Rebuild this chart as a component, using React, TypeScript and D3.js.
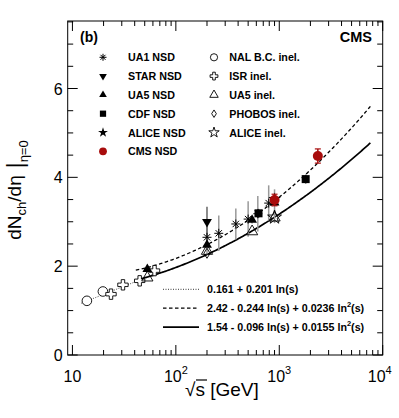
import React from 'react';
import * as d3 from 'd3';

// measured points, sqrt(s) in GeV
const ua1Energy = [200, 260, 380, 500, 620, 790];
const ua1Value = [2.65, 2.74, 2.95, 3.06, 3.18, 3.42];
const ua1Error = [0.4, 0.4, 0.35, 0.4, 0.4, 0.4];
const starEnergy = [200];
const starValue = [3.0];
const starError = [0.34];
const ua5NsdEnergy = [53, 200, 546, 900];
const ua5NsdValue = [1.93, 2.48, 3.04, 3.43];
const ua5NsdError = [0.05, 0.06, 0.08, 0.3];
const cdfEnergy = [630, 1800];
const cdfValue = [3.19, 3.96];
const cdfError = [0.1, 0.1];
const aliceNsdEnergy = [900];
const aliceNsdValue = [3.51];
const cmsEnergy = [900, 2360];
const cmsValue = [3.49, 4.48];
const cmsError = [0.13, 0.16];
const nalEnergy = [13.8, 19.7];
const nalValue = [1.22, 1.43];
const isrEnergy = [23.6, 30.8, 44.7, 62.2];
const isrValue = [1.37, 1.58, 1.67, 1.9];
const ua5InelEnergy = [53, 200, 546, 900];
const ua5InelValue = [1.74, 2.34, 2.78, 3.09];
const phobosEnergy = [200];
const phobosValue = [2.29];
const aliceInelEnergy = [900];
const aliceInelValue = [3.1];
const aliceInelError = [0.13];

// fit coefficients a + b ln(s) + c ln^2(s), and their drawn ranges
const fitLabels = ['0.161 + 0.201 ln(s)', '2.42 - 0.244 ln(s) + 0.0236 ln', '1.54 - 0.096 ln(s) + 0.0155 ln'];
const fitCoef = [[0.161, 0.201, 0], [2.42, -0.244, 0.0236], [1.54, -0.096, 0.0155]];
const fitRange = [[12.2, 60], [41, 7600], [41, 7600]];

const yTicks = [0, 2, 4, 6];
const xTicks = [10, 100, 1000, 10000];

const RED = '#a80c0c';

const W = 399, H = 418;
const L = 67.7, R = 382.7, T = 21, B = 355;

const x = d3.scaleLog().domain([9, 10000]).range([L, R]);
const y = d3.scaleLinear().domain([0, 7.52]).range([B, T]);

function asterisk(s: number) {
  const r = s / 2;
  const d = r * 0.707;
  return `M${-r},0L${r},0M0,${-r}L0,${r}M${-d},${-d}L${d},${d}M${-d},${d}L${d},${-d}`;
}

function diamond(s: number) {
  const h = s / 2, w = s / 3.2;
  return `M0,${-h}L${w},0L0,${h}L${-w},0Z`;
}

type Kind = 'ast' | 'down' | 'up' | 'sq' | 'star' | 'dot' | 'circ' | 'cross' | 'otri' | 'diam' | 'ostar';

function Marker({ kind, cx, cy, k = 1 }: { kind: Kind; cx: number; cy: number; k?: number }) {
  const t = `translate(${cx},${cy})`;
  switch (kind) {
    case 'ast':
      return <path transform={t} d={asterisk(9 * k)} stroke="#000" strokeWidth={1} fill="none" />;
    case 'down':
      return <path transform={`${t} rotate(180)`} d={d3.symbol(d3.symbolTriangle, 42 * k * k)()!} fill="#000" />;
    case 'up':
      return <path transform={t} d={d3.symbol(d3.symbolTriangle, 42 * k * k)()!} fill="#000" />;
    case 'sq':
      return <path transform={t} d={d3.symbol(d3.symbolSquare, 64 * k * k)()!} fill="#000" />;
    case 'star':
      return <path transform={t} d={d3.symbol(d3.symbolStar, 50 * k * k)()!} fill="#000" />;
    case 'dot':
      return <circle cx={cx} cy={cy} r={5 * k} fill={RED} />;
    case 'circ':
      return <circle cx={cx} cy={cy} r={4.8 * k} fill="#fff" stroke="#000" strokeWidth={0.9} />;
    case 'cross':
      return <path transform={t} d={d3.symbol(d3.symbolCross, 60 * k * k)()!} fill="#fff" stroke="#000" strokeWidth={0.9} />;
    case 'otri':
      return <path transform={t} d={d3.symbol(d3.symbolTriangle, 55 * k * k)()!} fill="none" stroke="#000" strokeWidth={0.9} />;
    case 'diam':
      return <path transform={t} d={diamond(10 * k)} fill="none" stroke="#000" strokeWidth={0.9} />;
    case 'ostar':
      return <path transform={t} d={d3.symbol(d3.symbolStar, 60 * k * k)()!} fill="none" stroke="#000" strokeWidth={0.9} />;
  }
  return null;
}

function ErrorBars({ e, v, err, color = '#999' }: { e: number[]; v: number[]; err: number[]; color?: string }) {
  return (
    <g stroke={color} strokeWidth={1.5}>
      {e.map((d, i) => (
        <line key={i} x1={x(d)} x2={x(d)} y1={y(v[i] - err[i])} y2={y(v[i] + err[i])} />
      ))}
    </g>
  );
}

function Points({ e, v, kind }: { e: number[]; v: number[]; kind: Kind }) {
  return <g>{e.map((d, i) => <Marker key={i} kind={kind} cx={x(d)} cy={y(v[i])} />)}</g>;
}

function fitPath(c: number[], range: number[]) {
  const pts = d3.range(0, 201).map(i => {
    const lo = Math.log10(range[0]), hi = Math.log10(range[1]);
    const e = Math.pow(10, lo + (hi - lo) * i / 200);
    const ls = Math.log(e * e);
    return [e, c[0] + c[1] * ls + c[2] * ls * ls] as [number, number];
  });
  return d3.line().x(d => x(d[0])).y(d => y(d[1]))(pts)!;
}

const leftLegend: [Kind, string][] = [
  ['ast', 'UA1 NSD'], ['down', 'STAR NSD'], ['up', 'UA5 NSD'],
  ['sq', 'CDF NSD'], ['star', 'ALICE NSD'], ['dot', 'CMS NSD'],
];
const rightLegend: [Kind, string][] = [
  ['circ', 'NAL B.C. inel.'], ['cross', 'ISR inel.'], ['otri', 'UA5 inel.'],
  ['diam', 'PHOBOS inel.'], ['ostar', 'ALICE inel.'],
];
const fitStyles = [
  { dash: '1,1.5', w: 0.8 },
  { dash: '3.5,2.5', w: 1.3 },
  { dash: undefined, w: 1.7 },
];

export default function App() {
  const minorX: number[] = [];
  [10, 100, 1000].forEach(d => { for (let m = 2; m <= 9; m++) minorX.push(d * m); });
  const minorY = d3.range(0.5, 7.51, 0.5).filter(v => v % 2 !== 0);
  const font = 'Liberation Sans, Arial, Helvetica, sans-serif';

  return (
    <svg width={W} height={H} style={{ position: 'absolute', left: 0, top: 0, fontFamily: font }}>
      <rect width={W} height={H} fill="#fff" />

      {/* fits */}
      {fitCoef.map((c, i) => (
        <path key={i} d={fitPath(c, fitRange[i])} fill="none" stroke="#000"
          strokeWidth={fitStyles[i].w} strokeDasharray={fitStyles[i].dash} />
      ))}

      {/* errors */}
      <ErrorBars e={ua1Energy} v={ua1Value} err={ua1Error} />
      <ErrorBars e={starEnergy} v={starValue} err={starError} color="#666" />
      <ErrorBars e={ua5NsdEnergy} v={ua5NsdValue} err={ua5NsdError} />
      <ErrorBars e={cdfEnergy} v={cdfValue} err={cdfError} color="#444" />
      <ErrorBars e={aliceInelEnergy} v={aliceInelValue} err={aliceInelError} />

      {/* open markers */}
      <Points e={nalEnergy} v={nalValue} kind="circ" />
      <Points e={isrEnergy} v={isrValue} kind="cross" />
      <Points e={ua5InelEnergy} v={ua5InelValue} kind="otri" />
      <Points e={phobosEnergy} v={phobosValue} kind="diam" />
      <Points e={aliceInelEnergy} v={aliceInelValue} kind="ostar" />

      {/* filled markers */}
      <Points e={ua1Energy} v={ua1Value} kind="ast" />
      <Points e={starEnergy} v={starValue} kind="down" />
      <Points e={ua5NsdEnergy} v={ua5NsdValue} kind="up" />
      <Points e={cdfEnergy} v={cdfValue} kind="sq" />
      <Points e={aliceNsdEnergy} v={aliceNsdValue} kind="star" />
      <ErrorBars e={cmsEnergy} v={cmsValue} err={cmsError} color={RED} />
      {cmsEnergy.map((d, i) => (
        <g key={i} stroke={RED} strokeWidth={1.2}>
          <line x1={x(d) - 3} x2={x(d) + 3} y1={y(cmsValue[i] + cmsError[i])} y2={y(cmsValue[i] + cmsError[i])} />
          <line x1={x(d) - 3} x2={x(d) + 3} y1={y(cmsValue[i] - cmsError[i])} y2={y(cmsValue[i] - cmsError[i])} />
        </g>
      ))}
      <Points e={cmsEnergy} v={cmsValue} kind="dot" />

      {/* frame & ticks */}
      <rect x={L} y={T} width={R - L} height={B - T} fill="none" stroke="#000" strokeWidth={1} />
      <g stroke="#000" strokeWidth={1}>
        {xTicks.map(t => (
          <g key={t}>
            <line x1={x(t)} x2={x(t)} y1={B} y2={B - 10} />
            <line x1={x(t)} x2={x(t)} y1={T} y2={T + 10} />
          </g>
        ))}
        {minorX.map(t => (
          <g key={t}>
            <line x1={x(t)} x2={x(t)} y1={B} y2={B - 5} />
            <line x1={x(t)} x2={x(t)} y1={T} y2={T + 5} />
          </g>
        ))}
        {yTicks.map(t => (
          <g key={t}>
            <line x1={L} x2={L + 10} y1={y(t)} y2={y(t)} />
            <line x1={R} x2={R - 10} y1={y(t)} y2={y(t)} />
          </g>
        ))}
        {minorY.map(t => (
          <g key={t}>
            <line x1={L} x2={L + 5.5} y1={y(t)} y2={y(t)} />
            <line x1={R} x2={R - 5.5} y1={y(t)} y2={y(t)} />
          </g>
        ))}
      </g>

      {/* tick labels */}
      <g fontSize={16} fill="#000">
        {yTicks.map(t => (
          <text key={t} x={L - 5} y={y(t) + 6} textAnchor="end">{t}</text>
        ))}
        {xTicks.map((t, i) => (
          <text key={t} x={x(t) - (i === 3 ? 3 : 0)} y={382} textAnchor="middle">
            10{i > 0 && <tspan fontSize={11} dy={-8}>{i + 1}</tspan>}
          </text>
        ))}
      </g>

      {/* axis titles */}
      <text x={185} y={396} fontSize={19}>
        √<tspan>s [GeV]</tspan>
      </text>
      <line x1={196} x2={207} y1={380} y2={380} stroke="#000" strokeWidth={1.2} />
      <text transform="translate(21,190) rotate(-90)" textAnchor="middle" fontSize={19}>
        dN<tspan fontSize={13} dy={5}>ch</tspan>
        <tspan dy={-5}>/dη</tspan>
        <tspan fontSize={24} dy={2}> |</tspan>
        <tspan fontSize={13} dy={5}>η=0</tspan>
      </text>

      {/* labels */}
      <text x={80} y={42} fontSize={14} fontWeight="bold">(b)</text>
      <text x={372} y={42} fontSize={14.5} fontWeight="bold" textAnchor="end">CMS</text>

      {/* legends */}
      <g fontSize={10.7} fontWeight="bold">
        {leftLegend.map(([k, label], i) => (
          <g key={label}>
            <Marker kind={k} cx={103} cy={57.3 + i * 18.8} k={0.78} />
            <text x={128} y={61.3 + i * 18.8}>{label}</text>
          </g>
        ))}
        {rightLegend.map(([k, label], i) => (
          <g key={label}>
            <Marker kind={k} cx={214} cy={57.3 + i * 18.8} k={0.75} />
            <text x={229.3} y={61.3 + i * 18.8}>{label}</text>
          </g>
        ))}
        {fitLabels.map((label, i) => (
          <g key={label}>
            <line x1={163} x2={199} y1={289.3 + i * 18.9} y2={289.3 + i * 18.9} stroke="#000"
              strokeWidth={fitStyles[i].w} strokeDasharray={fitStyles[i].dash} />
            <text x={207} y={293.3 + i * 18.9}>
              {label}
              {i > 0 && <tspan fontSize={7.5} dy={-5}>2</tspan>}
              {i > 0 && <tspan dy={5}>(s)</tspan>}
            </text>
          </g>
        ))}
      </g>
    </svg>
  );
}
